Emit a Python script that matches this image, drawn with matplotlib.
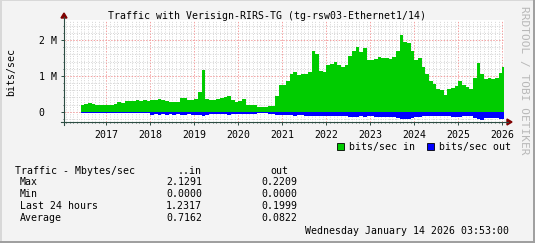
import matplotlib
matplotlib.use("Agg")
import matplotlib.pyplot as plt
import matplotlib.dates as mdates
from matplotlib.ticker import MultipleLocator, FixedLocator
from matplotlib.patches import Polygon, Rectangle
from matplotlib.lines import Line2D
import numpy as np
import pandas as pd

plt.rcParams["font.family"] = ["DejaVu Sans Mono"]
FS = 7.1

# --- data: monthly traffic, Mbit/s (in positive, out drawn below zero) ---
first_month = "2016-06-01"
last_sample = "2026-01-14 03:53"
in_mbps = [
    0.20, 0.21, 0.25, 0.21, 0.20, 0.20, 0.19,                                  # 2016
    0.20, 0.20, 0.22, 0.26, 0.24, 0.30, 0.31, 0.31, 0.32, 0.31, 0.32, 0.31,    # 2017
    0.33, 0.33, 0.35, 0.34, 0.30, 0.28, 0.26, 0.28, 0.37, 0.38, 0.34, 0.33,    # 2018
    0.35, 0.55, 1.16, 0.35, 0.32, 0.33, 0.35, 0.37, 0.40, 0.45, 0.33, 0.27,    # 2019
    0.30, 0.36, 0.20, 0.19, 0.20, 0.14, 0.14, 0.14, 0.15, 0.16, 0.44, 0.74,    # 2020
    0.74, 0.85, 1.05, 1.10, 1.03, 1.06, 1.05, 1.12, 1.70, 1.60, 1.13, 1.10,    # 2021
    1.30, 1.33, 1.40, 1.30, 1.26, 1.30, 1.55, 1.70, 1.80, 1.66, 1.78, 1.44,    # 2022
    1.44, 1.47, 1.53, 1.51, 1.49, 1.48, 1.52, 1.70, 2.15, 1.95, 1.91, 1.70,    # 2023
    1.45, 1.50, 1.25, 1.05, 0.86, 0.78, 0.64, 0.60, 0.47, 0.62, 0.66, 0.73,    # 2024
    0.85, 0.74, 0.68, 0.63, 0.95, 1.35, 1.05, 0.92, 0.94, 0.92, 0.95, 1.08,    # 2025
    1.25,                                                                      # 2026
]
out_mbps = [
    0.04, 0.04, 0.04, 0.04, 0.04, 0.04, 0.04,
    0.04, 0.04, 0.04, 0.04, 0.04, 0.04, 0.04, 0.04, 0.04, 0.04, 0.04, 0.04,
    0.08, 0.07, 0.08, 0.06, 0.08, 0.07, 0.08, 0.07, 0.08, 0.08, 0.07, 0.08,
    0.08, 0.09, 0.12, 0.08, 0.07, 0.07, 0.06, 0.06, 0.07, 0.08, 0.06, 0.05,
    0.06, 0.07, 0.05, 0.05, 0.05, 0.04, 0.04, 0.04, 0.05, 0.06, 0.08, 0.09,
    0.09, 0.09, 0.10, 0.11, 0.10, 0.10, 0.11, 0.11, 0.12, 0.12, 0.11, 0.12,
    0.12, 0.12, 0.13, 0.12, 0.12, 0.13, 0.14, 0.14, 0.14, 0.13, 0.15, 0.13,
    0.13, 0.14, 0.15, 0.15, 0.14, 0.14, 0.15, 0.18, 0.20, 0.20, 0.19, 0.17,
    0.15, 0.14, 0.13, 0.12, 0.12, 0.11, 0.12, 0.12, 0.11, 0.12, 0.14, 0.15,
    0.14, 0.13, 0.12, 0.13, 0.17, 0.21, 0.22, 0.18, 0.17, 0.18, 0.17, 0.19,
    0.20,
]
ytick_vals = [0, 1e6, 2e6]
ytick_labels = ["0  ", "1 M", "2 M"]

stat_rows = ["Max", "Min", "Last 24 hours", "Average"]
stat_in = ["2.1291", "0.0000", "1.2317", "0.7162"]
stat_out = ["0.2209", "0.0000", "0.1999", "0.0822"]

W, H = 535, 243
fig = plt.figure(figsize=(W / 100, H / 100), dpi=100, facecolor="#f3f3f3")


def fx(x):
    return x / W


def fy(y):
    return 1 - y / H


ax = fig.add_axes([fx(64), fy(122), 440 / W, 102 / H])
ax.set_facecolor("white")

months = pd.date_range(first_month, periods=len(in_mbps), freq="MS")
edges = list(months) + [pd.Timestamp(last_sample)]
vin = np.array(in_mbps + [in_mbps[-1]]) * 1e6
vout = -np.array(out_mbps + [out_mbps[-1]]) * 1e6

ax.fill_between(edges, 0, vin, step="post", color="#00cc00", lw=0, antialiased=False)
ax.fill_between(edges, 0, vout, step="post", color="#0000ff", lw=0, antialiased=False)

ax.set_xlim(pd.Timestamp("2016-01-14 03:53"), pd.Timestamp(last_sample))
ax.set_ylim(-0.287e6, 2.558e6)

ax.xaxis.set_major_locator(mdates.YearLocator())
ax.xaxis.set_major_formatter(mdates.DateFormatter("%Y"))
ax.xaxis.set_minor_locator(mdates.MonthLocator(bymonth=range(2, 13)))
ax.yaxis.set_major_locator(FixedLocator(ytick_vals))
ax.set_yticklabels(ytick_labels)
ax.yaxis.set_minor_locator(MultipleLocator(0.2e6))

ax.set_axisbelow(True)
ax.grid(which="minor", color="#d4d4d4", linestyle=(0, (1, 1.5)), lw=0.7)
ax.grid(which="major", color="#f3a0a0", linestyle=(0, (1.5, 1.5)), lw=0.7)

for s in ax.spines.values():
    s.set_visible(False)
ax.tick_params(axis="both", which="major", labelsize=FS, length=2, width=0.7,
               color="#2c4d43", direction="out")
ax.tick_params(axis="y", which="major", pad=3)
ax.tick_params(axis="x", which="major", pad=4)
ax.tick_params(axis="both", which="minor", length=1, width=0.6, color="#2c4d43")

# axis lines with arrows, rrdtool style
fig.add_artist(Line2D([fx(64), fx(64)], [fy(125), fy(17)], color="#2c4d43", lw=0.8))
fig.add_artist(Line2D([fx(61), fx(508)], [fy(122), fy(122)], color="#2c4d43", lw=0.8))
fig.add_artist(Polygon([[fx(61), fy(18)], [fx(67), fy(18)], [fx(64), fy(13)]],
                       closed=True, color="#7f0000", transform=fig.transFigure))
fig.add_artist(Polygon([[fx(507), fy(119)], [fx(507), fy(125)], [fx(512), fy(122)]],
                       closed=True, color="#7f0000", transform=fig.transFigure))

# titles
fig.text(fx(267.5), fy(16), "Traffic with Verisign-RIRS-TG (tg-rsw03-Ethernet1/14)",
         ha="center", va="center", fontsize=FS)
fig.text(fx(11), fy(72), "bits/sec", rotation=90, ha="center", va="center", fontsize=FS)
fig.text(fx(524), fy(80), "RRDTOOL / TOBI OETIKER", rotation=270, ha="center",
         va="center", fontsize=8.0, color="#b8b8b8")

# legend
for x0, col, lab in [(337, "#00cc00", "bits/sec in"), (427, "#0000ff", "bits/sec out")]:
    fig.add_artist(Rectangle((fx(x0), fy(150)), 7 / W, 7 / H, facecolor=col,
                             edgecolor="black", lw=0.6, transform=fig.transFigure))
    fig.text(fx(x0 + 12), fy(146.7), lab, ha="left", va="center", fontsize=FS)

# statistics block
fig.text(fx(15), fy(171), "Traffic - Mbytes/sec", ha="left", va="center", fontsize=FS)
fig.text(fx(202), fy(171), "..in", ha="right", va="center", fontsize=FS)
fig.text(fx(288), fy(171), "out", ha="right", va="center", fontsize=FS)
row_y = [182.3, 194.2, 206.0, 218.3]
for lab, vi, vo, yy in zip(stat_rows, stat_in, stat_out, row_y):
    fig.text(fx(20), fy(yy), lab, ha="left", va="center", fontsize=FS)
    fig.text(fx(202), fy(yy), vi, ha="right", va="center", fontsize=FS)
    fig.text(fx(297), fy(yy), vo, ha="right", va="center", fontsize=FS)
fig.text(fx(509), fy(231), "Wednesday January 14 2026 03:53:00", ha="right",
         va="center", fontsize=FS)

# 3D frame
fig.add_artist(Line2D([0, 1], [fy(0.5), fy(0.5)], color="#d8d8d8", lw=1.4))
fig.add_artist(Line2D([fx(0.5), fx(0.5)], [0, 1], color="#d8d8d8", lw=1.4))
fig.add_artist(Line2D([0, 1], [fy(242), fy(242)], color="#9e9e9e", lw=1.4))
fig.add_artist(Line2D([fx(534), fx(534)], [0, 1], color="#9e9e9e", lw=1.4))

fig.savefig("out.png", dpi=100, facecolor=fig.get_facecolor())
